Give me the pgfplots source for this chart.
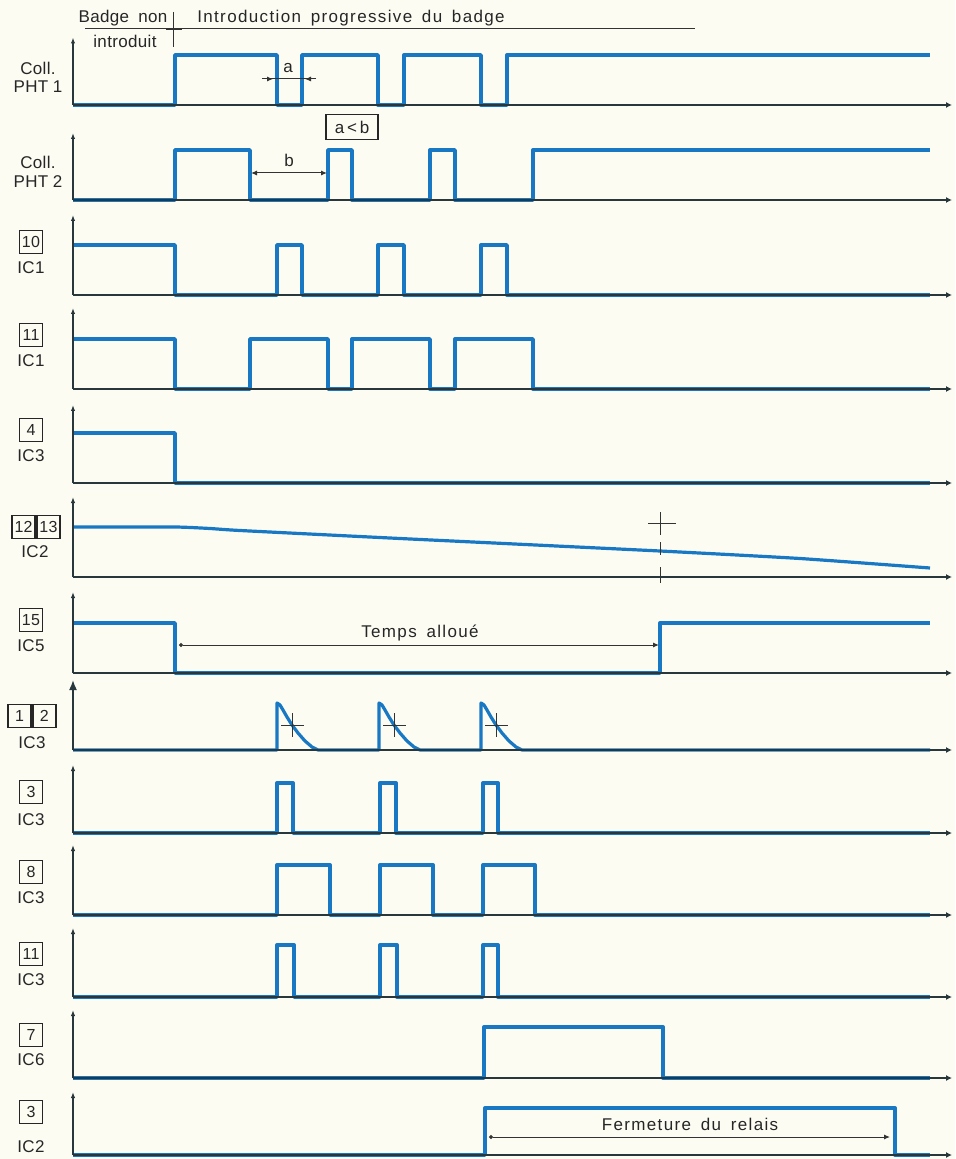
\documentclass[border=0pt]{standalone}
\usepackage{fontspec}
\setmainfont{Liberation Sans}[LetterSpace=8, WordSpace=1.6]
\newfontfamily\labfont{Liberation Sans}[LetterSpace=2, WordSpace=0.9]
\usepackage{pgfplots}
\pgfplotsset{compat=1.18}
\usetikzlibrary{arrows.meta}
\definecolor{bg}{RGB}{252,252,243}
\definecolor{sig}{RGB}{24,120,196}
\definecolor{ax}{RGB}{40,55,60}

\pgfplotsset{
  trace/.style={
    x=0.5pt, y=25pt, xmin=73, xmax=952, ymin=0,
    axis lines=left, axis on top,
    xtick=\empty, ytick=\empty,
    clip=false, enlargelimits=false,
    x axis line style={line width=1pt, draw=ax, -{Latex[length=3pt,width=3pt]}},
    y axis line style={line width=0.6pt, draw=ax, -{Latex[length=3pt,width=2.2pt]}},
    anchor=south west,
  },
  sigline/.style={sig, line width=1.7pt, line join=round, mark=none},
}
\tikzset{
  txt/.style={font=\fontsize{8.5}{10}\selectfont, text=black!85, inner sep=0pt},
  lab/.style={font=\labfont\fontsize{8.5}{10}\selectfont, text=black!85, inner sep=0pt},
  bx/.style={draw=black!85, line width=0.9pt, font=\labfont\fontsize{8}{9}\selectfont, text=black!85, minimum size=11.5pt, inner sep=1pt},
  thin/.style={draw=black!80, line width=0.5pt},
}
\newcommand\PP[2]{({#1*0.5pt},{-#2*0.5pt})}

\begin{document}
\begin{tikzpicture}
\path[use as bounding box, fill=bg] (0,0) rectangle (477.5pt,-579.5pt);

% ---------- Row 1: Coll. PHT 1
\begin{axis}[trace, ymax=1.35, at={(36.5pt,-52.5pt)}]
\addplot[sigline] coordinates {(73,0)(175,0)(175,1)(277,1)(277,0)(302,0)(302,1)(378,1)(378,0)(404,0)(404,1)(481,1)(481,0)(507,0)(507,1)(930,1)};
\draw[thin] (axis cs:173,1.86) -- (axis cs:173,1.16);
\draw[thin] (axis cs:85,1.52) -- (axis cs:695,1.52);
\draw[line width=1pt, black!80] (axis cs:166,1.52) -- (axis cs:182,1.52);
\node[lab] at (axis cs:123,1.74) {Badge\ \ non};
\node[lab] at (axis cs:125,1.27) {introduit};
\node[txt] at (axis cs:351,1.74) {Introduction progressive du badge};
\draw[thin] (axis cs:262,0.52) -- (axis cs:316,0.52);
\draw[thin, -{Latex[length=3pt,width=2.5pt]}] (axis cs:262,0.52) -- (axis cs:273,0.52);
\draw[thin, -{Latex[length=3pt,width=2.5pt]}] (axis cs:316,0.52) -- (axis cs:305,0.52);
\node[txt] at (axis cs:288,0.74) {a};
\end{axis}

% ---------- Row 2: Coll. PHT 2
\begin{axis}[trace, ymax=1.34, at={(36.5pt,-100pt)}]
\addplot[sigline] coordinates {(73,0)(175,0)(175,1)(250,1)(250,0)(328,0)(328,1)(352,1)(352,0)(430,0)(430,1)(455,1)(455,0)(533,0)(533,1)(930,1)};
\draw[thin, {Latex[length=3pt,width=2.5pt]}-{Latex[length=3pt,width=2.5pt]}] (axis cs:251,0.54) -- (axis cs:327,0.54);
\node[txt] at (axis cs:289,0.8) {b};
\node[draw=black!85, line width=0.7pt, fill=bg, font=\labfont\fontsize{8.5}{10}\selectfont, text=black!85, minimum width=26pt, minimum height=12.5pt, inner sep=1pt] at (axis cs:352,1.46) {a\,<\,b};
\end{axis}

% ---------- Row 3: 10 IC1
\begin{axis}[trace, ymax=1.6, at={(36.5pt,-147.5pt)}]
\addplot[sigline] coordinates {(73,1)(175,1)(175,0)(277,0)(277,1)(302,1)(302,0)(378,0)(378,1)(404,1)(404,0)(481,0)(481,1)(507,1)(507,0)(930,0)};
\end{axis}

% ---------- Row 4: 11 IC1
\begin{axis}[trace, ymax=1.62, at={(36.5pt,-194.5pt)}]
\addplot[sigline] coordinates {(73,1)(175,1)(175,0)(250,0)(250,1)(328,1)(328,0)(352,0)(352,1)(430,1)(430,0)(455,0)(455,1)(533,1)(533,0)(930,0)};
\end{axis}

% ---------- Row 5: 4 IC3
\begin{axis}[trace, ymax=1.56, at={(36.5pt,-241.5pt)}]
\addplot[sigline] coordinates {(73,1)(175,1)(175,0)(930,0)};
\end{axis}

% ---------- Row 6: 12 13 IC2
\begin{axis}[trace, ymax=1.6, at={(36.5pt,-288.5pt)}]
\addplot[sigline, line width=1.6pt, smooth, tension=0.3] coordinates {(73,1)(175,1)(210,0.97)(240,0.93)(400,0.77)(660,0.52)(800,0.37)(930,0.18)};
\draw[thin] (axis cs:648,1.08) -- (axis cs:676,1.08);
\draw[thin] (axis cs:660,1.3) -- (axis cs:660,0.84);
\draw[thin] (axis cs:660,0.7) -- (axis cs:660,0.44);
\draw[thin] (axis cs:660,0.2) -- (axis cs:660,-0.12);
\end{axis}

% ---------- Row 7: 15 IC5
\begin{axis}[trace, ymax=1.62, at={(36.5pt,-336.5pt)}]
\addplot[sigline] coordinates {(73,1)(175,1)(175,0)(660,0)(660,1)(930,1)};
\draw[thin, {Circle[length=2pt]}-{Latex[length=3pt,width=2.5pt]}] (axis cs:179,0.56) -- (axis cs:659,0.56);
\node[txt] at (axis cs:420,0.8) {Temps alloué};
\end{axis}

% ---------- Row 8: 1 2 IC3
\begin{axis}[trace, ymax=1.4, at={(36.5pt,-375pt)},
  y axis line style={line width=0.8pt, draw=ax, -{Latex[length=5pt,width=4pt]}}]
\addplot[sigline, line width=1.6pt] coordinates {(73,0)(277,0)(277,0.94)(280,0.9)(283,0.8)(287,0.66)(292,0.5)(298,0.34)(305,0.18)(312,0.06)(318,0)
(379,0)(379,0.94)(382,0.9)(385,0.8)(389,0.66)(394,0.5)(400,0.34)(407,0.18)(414,0.06)(420,0)
(481,0)(481,0.94)(484,0.9)(487,0.8)(491,0.66)(496,0.5)(502,0.34)(509,0.18)(516,0.06)(522,0)(930,0)};
\draw[thin] (axis cs:281,0.5) -- (axis cs:304,0.5);
\draw[thin] (axis cs:292,0.74) -- (axis cs:292,0.26);
\draw[thin] (axis cs:383,0.5) -- (axis cs:406,0.5);
\draw[thin] (axis cs:394,0.74) -- (axis cs:394,0.26);
\draw[thin] (axis cs:485,0.5) -- (axis cs:508,0.5);
\draw[thin] (axis cs:496,0.74) -- (axis cs:496,0.26);
\end{axis}

% ---------- Row 9: 3 IC3
\begin{axis}[trace, ymax=1.36, at={(36.5pt,-416.5pt)}]
\addplot[sigline] coordinates {(73,0)(277,0)(277,1)(293,1)(293,0)(380,0)(380,1)(396,1)(396,0)(483,0)(483,1)(498,1)(498,0)(930,0)};
\end{axis}

% ---------- Row 10: 8 IC3
\begin{axis}[trace, ymax=1.4, at={(36.5pt,-457.5pt)}]
\addplot[sigline] coordinates {(73,0)(277,0)(277,1)(330,1)(330,0)(380,0)(380,1)(433,1)(433,0)(483,0)(483,1)(535,1)(535,0)(930,0)};
\end{axis}

% ---------- Row 11: 11 IC3
\begin{axis}[trace, ymax=1.38, at={(36.5pt,-498.5pt)}]
\addplot[sigline] coordinates {(73,0)(277,0)(277,1.04)(294,1.04)(294,0)(380,0)(380,1.04)(397,1.04)(397,0)(483,0)(483,1.04)(498,1.04)(498,0)(930,0)};
\end{axis}

% ---------- Row 12: 7 IC6
\begin{axis}[trace, ymax=1.36, at={(36.5pt,-539pt)}]
\addplot[sigline] coordinates {(73,0)(484,0)(484,1.02)(663,1.02)(663,0)(930,0)};
\end{axis}

% ---------- Row 13: 3 IC2
\begin{axis}[trace, ymax=1.26, at={(36.5pt,-577.5pt)}]
\addplot[sigline] coordinates {(73,0)(485,0)(485,0.94)(895,0.94)(895,0)(930,0)};
\draw[thin, {Circle[length=2pt]}-{Latex[length=3pt,width=2.5pt]}] (axis cs:489,0.36) -- (axis cs:890,0.36);
\node[txt] at (axis cs:690,0.62) {Fermeture du relais};
\end{axis}

% ---------- Left labels
\node[lab] at \PP{38}{68} {Coll.};
\node[lab] at \PP{38}{87} {PHT 1};
\node[lab] at \PP{38}{162} {Coll.};
\node[lab] at \PP{38}{182} {PHT 2};

\node[bx] at \PP{31}{242} {10};  \node[lab] at \PP{31}{268} {IC1};
\node[bx] at \PP{31}{335} {11};  \node[lab] at \PP{31}{361} {IC1};
\node[bx] at \PP{31}{430} {4};   \node[lab] at \PP{31}{456} {IC3};
\node[bx, anchor=east] (a1) at \PP{36}{527} {12};
\node[bx, anchor=west] at (a1.east) {13};
\node[lab] at \PP{35}{552} {IC2};
\node[bx] at \PP{31}{620} {15};  \node[lab] at \PP{31}{646} {IC5};
\node[bx, anchor=east] (b1) at \PP{32}{716} {1};
\node[bx, anchor=west] at (b1.east) {2};
\node[lab] at \PP{32}{743} {IC3};
\node[bx] at \PP{31}{792} {3};   \node[lab] at \PP{31}{820} {IC3};
\node[bx] at \PP{31}{872} {8};   \node[lab] at \PP{31}{898} {IC3};
\node[bx] at \PP{31}{954} {11};  \node[lab] at \PP{31}{980} {IC3};
\node[bx] at \PP{31}{1035} {7};  \node[lab] at \PP{31}{1060} {IC6};
\node[bx] at \PP{31}{1112} {3};  \node[lab] at \PP{31}{1147} {IC2};
\end{tikzpicture}
\end{document}
